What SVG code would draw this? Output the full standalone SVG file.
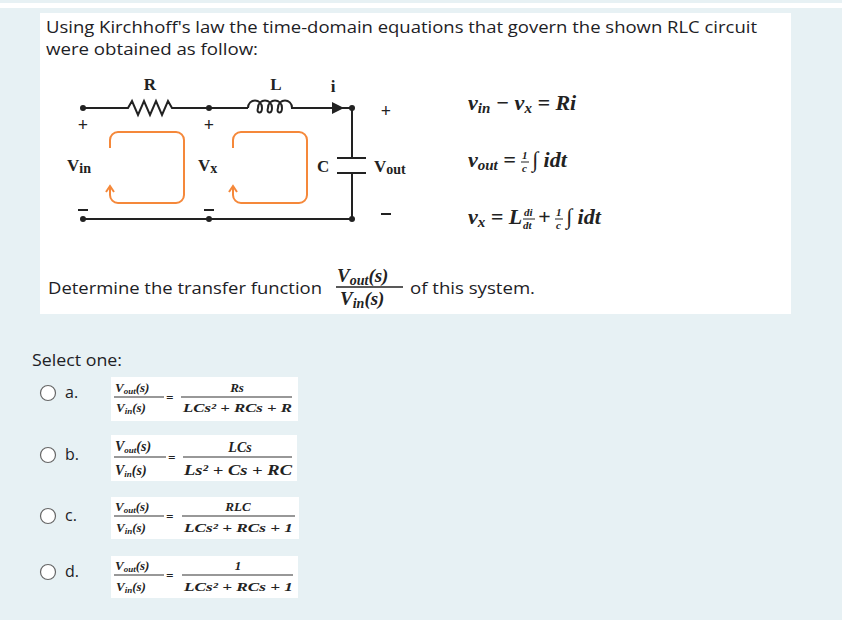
<svg xmlns="http://www.w3.org/2000/svg" width="842" height="620" viewBox="0 0 842 620">
<style>
.t{font-family:"Open Sans","Liberation Sans",sans-serif;fill:#1d2125}
.s{font-family:"Liberation Serif",serif;font-weight:bold;fill:#222}
.m{font-family:"Liberation Serif",serif;font-weight:bold;font-style:italic;fill:#222}
.w{stroke:#222;stroke-width:2;fill:none}
.o{stroke:#f5883a;stroke-width:2;fill:none}
.fl{stroke:#333;stroke-width:1.2}
.r{fill:#fff;stroke:#666;stroke-width:1.2}
</style>
<rect width="842" height="620" fill="#e7f1f4"/>
<rect x="0" y="3" width="842" height="5" fill="#fff"/>
<rect x="40" y="13" width="751" height="301" fill="#fff"/>
<text class="t" x="46" y="33" font-size="17" textLength="711" lengthAdjust="spacingAndGlyphs">Using Kirchhoff's law the time-domain equations that govern the shown RLC circuit</text>
<text class="t" x="46" y="55" font-size="17" textLength="212" lengthAdjust="spacingAndGlyphs">were obtained as follow:</text>
<g id="circuit">
<path class="w" d="M83 108H128l4-7 6 14 6-14 6 14 6-14 6 14 6-14 4 7H248"/>
<path class="w" d="M248 108c0-10 14-10 14 0c0 6-6 6-4 0c0-10 14-10 14 0c0 6-6 6-4 0c0-10 14-10 14 0c0 6-6 6-4 0c0-10 14-10 14 0H352V158M337 158H366M337 173H366M352 173V219H83"/>
<path d="M332 102L344 108L332 114Z" fill="#222"/>
<g fill="#222"><circle cx="83" cy="108" r="3"/><circle cx="209" cy="108" r="3"/><circle cx="352" cy="108" r="3"/><circle cx="83" cy="219" r="3"/><circle cx="209" cy="219" r="3"/><circle cx="352" cy="219" r="3"/></g>
<path class="o" d="M110 148V140a8 8 0 0 1 8-8H176a8 8 0 0 1 8 8V195a8 8 0 0 1-8 8H118a8 8 0 0 1-8-8V187M106 192L110 186L114 192"/>
<path class="o" d="M233 148V140a8 8 0 0 1 8-8H299a8 8 0 0 1 8 8V195a8 8 0 0 1-8 8H241a8 8 0 0 1-8-8V187M229 192L233 186L237 192"/>
<text class="s" x="150" y="90" font-size="17" text-anchor="middle">R</text>
<text class="s" x="276" y="90" font-size="17" text-anchor="middle">L</text>
<text class="s" x="333" y="92" font-size="17" text-anchor="middle">i</text>
<text class="s" x="83" y="131" font-size="18" text-anchor="middle">+</text>
<text class="s" x="209" y="131" font-size="18" text-anchor="middle">+</text>
<text class="s" x="386" y="117" font-size="18" text-anchor="middle">+</text>
<text class="s" x="67" y="171" font-size="17">V<tspan font-size="14" dy="2">in</tspan></text>
<text class="s" x="198" y="171" font-size="17">V<tspan font-size="14" dy="2">x</tspan></text>
<text class="s" x="317" y="172" font-size="17">C</text>
<text class="s" x="374" y="172" font-size="17">V<tspan font-size="14" dy="2">out</tspan></text>
<path class="w" d="M78 210H88M204 210H214M381 214H391"/>
</g>
<g id="equations">
<text class="m" x="468" y="110" font-size="22">v<tspan font-size="15" dy="3">in</tspan><tspan dy="-3"> − v</tspan><tspan font-size="15" dy="3">x</tspan><tspan dy="-3"> = Ri</tspan></text>
<text class="m" x="468" y="167" font-size="22">v<tspan font-size="15" dy="3">out</tspan><tspan dy="-3"> =</tspan></text>
<text class="m" x="522" y="159" font-size="11">1</text><line x1="521" y1="162" x2="529" y2="162" stroke="#222"/><text class="m" x="522" y="172" font-size="11">c</text>
<text class="m" x="532" y="167" font-size="22">∫ idt</text>
<text class="m" x="468" y="224" font-size="22">v<tspan font-size="15" dy="3">x</tspan><tspan dy="-3"> = L</tspan></text>
<text class="m" x="524" y="216" font-size="11">di</text><line x1="523" y1="219" x2="535" y2="219" stroke="#222"/><text class="m" x="523" y="229" font-size="11">dt</text>
<text class="m" x="538" y="224" font-size="22">+</text>
<text class="m" x="556" y="216" font-size="11">1</text><line x1="555" y1="219" x2="563" y2="219" stroke="#222"/><text class="m" x="556" y="229" font-size="11">c</text>
<text class="m" x="566" y="224" font-size="22">∫ idt</text>
</g>
<text class="t" x="48" y="294" font-size="16" textLength="274" lengthAdjust="spacingAndGlyphs">Determine the transfer function</text>
<text class="m" x="337" y="282" font-size="19">V<tspan font-size="14" dy="3">out</tspan><tspan dy="-3">(s)</tspan></text>
<line x1="336" y1="287" x2="403" y2="287" stroke="#222" stroke-width="1.5"/>
<text class="m" x="340" y="305" font-size="19">V<tspan font-size="14" dy="3">in</tspan><tspan dy="-3">(s)</tspan></text>
<text class="t" x="410" y="294" font-size="16" textLength="125" lengthAdjust="spacingAndGlyphs">of this system.</text>
<text class="t" x="32" y="366" font-size="17" textLength="90" lengthAdjust="spacingAndGlyphs">Select one:</text>
<g id="options">
<g id="oa"><circle class="r" cx="48" cy="393" r="7.5"/><text class="t" x="65" y="398" font-size="16">a.</text>
<rect x="111" y="377" width="187" height="44" fill="#fff"/>
<text class="m" x="115" y="392" font-size="13">V<tspan font-size="9" dy="2">out</tspan><tspan dy="-2">(s)</tspan></text><line x1="114" y1="397" x2="164" y2="397" class="fl"/>
<text class="m" x="116" y="412" font-size="13">V<tspan font-size="9" dy="2">in</tspan><tspan dy="-2">(s)</tspan></text>
<text class="m" x="166" y="402" font-size="13">=</text>
<text class="m" x="237" y="392" font-size="13" text-anchor="middle">Rs</text><line x1="181" y1="397" x2="292" y2="397" class="fl"/>
<text class="m" x="183" y="412" font-size="13" textLength="109" lengthAdjust="spacingAndGlyphs">LCs² + RCs + R</text></g>
<g id="ob"><circle class="r" cx="48" cy="455" r="7.5"/><text class="t" x="65" y="460" font-size="16">b.</text>
<rect x="111" y="435" width="186" height="46" fill="#fff"/>
<text class="m" x="115" y="451" font-size="14">V<tspan font-size="9" dy="2">out</tspan><tspan dy="-2">(s)</tspan></text><line x1="114" y1="457" x2="166" y2="457" class="fl"/>
<text class="m" x="115" y="475" font-size="14">V<tspan font-size="9" dy="2">in</tspan><tspan dy="-2">(s)</tspan></text>
<text class="m" x="168" y="462" font-size="13">=</text>
<text class="m" x="240" y="452" font-size="14" text-anchor="middle">LCs</text><line x1="183" y1="457" x2="292" y2="457" class="fl"/>
<text class="m" x="184" y="475" font-size="14" textLength="108" lengthAdjust="spacingAndGlyphs">Ls² + Cs + RC</text></g>
<g id="oc"><circle class="r" cx="48" cy="516" r="7.5"/><text class="t" x="65" y="521" font-size="16">c.</text>
<rect x="111" y="497" width="188" height="42" fill="#fff"/>
<text class="m" x="115" y="511" font-size="13">V<tspan font-size="9" dy="2">out</tspan><tspan dy="-2">(s)</tspan></text><line x1="114" y1="516" x2="164" y2="516" class="fl"/>
<text class="m" x="116" y="532" font-size="13">V<tspan font-size="9" dy="2">in</tspan><tspan dy="-2">(s)</tspan></text>
<text class="m" x="166" y="521" font-size="13">=</text>
<text class="m" x="238" y="511" font-size="13" text-anchor="middle">RLC</text><line x1="182" y1="516" x2="295" y2="516" class="fl"/>
<text class="m" x="184" y="532" font-size="13" textLength="109" lengthAdjust="spacingAndGlyphs">LCs² + RCs + 1</text></g>
<g id="od"><circle class="r" cx="48" cy="572" r="7.5"/><text class="t" x="65" y="577" font-size="16">d.</text>
<rect x="111" y="556" width="187" height="42" fill="#fff"/>
<text class="m" x="115" y="570" font-size="13">V<tspan font-size="9" dy="2">out</tspan><tspan dy="-2">(s)</tspan></text><line x1="114" y1="575" x2="164" y2="575" class="fl"/>
<text class="m" x="116" y="591" font-size="13">V<tspan font-size="9" dy="2">in</tspan><tspan dy="-2">(s)</tspan></text>
<text class="m" x="166" y="580" font-size="13">=</text>
<text class="m" x="238" y="570" font-size="13" text-anchor="middle">1</text><line x1="182" y1="575" x2="293" y2="575" class="fl"/>
<text class="m" x="184" y="591" font-size="13" textLength="109" lengthAdjust="spacingAndGlyphs">LCs² + RCs + 1</text></g>
</g>
</svg>
